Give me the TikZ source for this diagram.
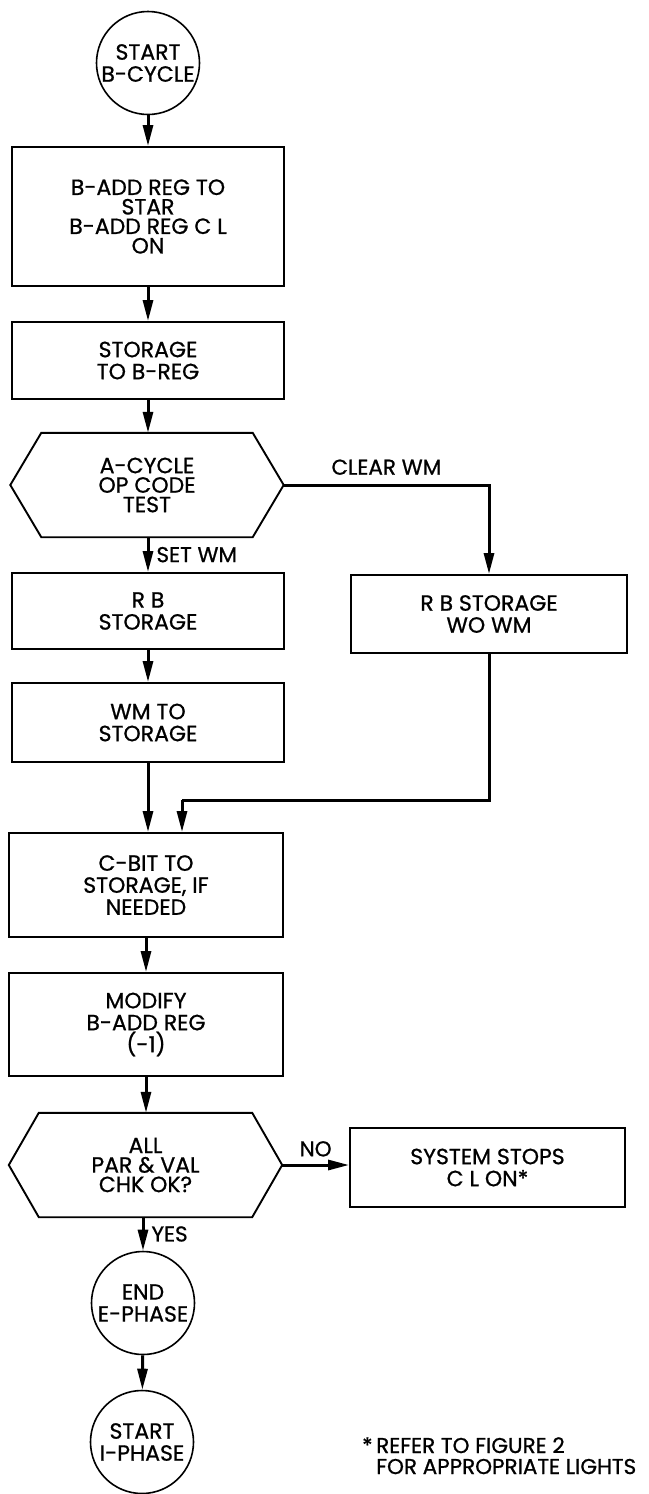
\documentclass[tikz,border=0pt]{standalone}
\usepackage{fontspec}
\setmainfont{Poppins}[FakeBold=0.8]
\usetikzlibrary{arrows.meta,calc}
\begin{document}
\begin{tikzpicture}[x=1pt,y=-1pt,
  every node/.style={font=\fontsize{22}{22}\selectfont, align=center, inner sep=0pt},
  box/.style={draw, line width=1.9pt, minimum width=272pt},
  term/.style={draw, circle, line width=1.6pt, minimum size=103pt},
  hexnode/.style={minimum width=273pt, minimum height=104pt},
  tight/.style={font=\fontsize{22}{19.5}\selectfont},
  flow/.style={line width=3pt, -{Triangle[length=21pt,width=10pt]}},
  conn/.style={line width=3pt},
  lbl/.style={font=\fontsize{21.5}{21}\selectfont},
  hexline/.style={line width=1.9pt, line join=miter}
]
\useasboundingbox (0,0) rectangle (648,1494);
% nodes
\node[term] (start) at (148,63) {START\\B-CYCLE};
\node[box, minimum height=139pt, tight] (b1) at (148,216.5) {B-ADD REG TO\\STAR\\B-ADD REG C L\\ON};
\node[box, minimum height=77pt] (b2) at (148,360.5) {STORAGE\\TO B-REG};
\node[hexnode, tight] (hexA) at (147,485) {A-CYCLE\\OP CODE\\TEST};
\node[box, minimum height=76pt] (rb) at (148,611) {R B\\STORAGE};
\node[box, minimum height=79pt] (wm) at (148,722.5) {WM TO\\STORAGE};
\node[box, minimum height=78pt, minimum width=276pt] (rbw) at (489,614) {R B STORAGE\\WO WM};
\node[box, minimum height=104pt, minimum width=274pt] (cbit) at (146,885) {C-BIT TO\\STORAGE, IF\\NEEDED};
\node[box, minimum height=103pt, minimum width=274pt] (mod) at (146,1024.5) {MODIFY\\B-ADD REG\\(-1)};
\node[hexnode, tight] (hexB) at (145.5,1165) {ALL\\PAR \& VAL\\CHK OK?};
\node[box, minimum height=79pt, minimum width=275pt] (sys) at (487.5,1167.5) {SYSTEM STOPS\\C L ON*};
\node[term] (endc) at (143,1303) {END\\E-PHASE};
\node[term] (starti) at (142,1442) {START\\I-PHASE};
\node[lbl, anchor=north west, align=left] (note) at (376,1437) {\llap{*\,}REFER TO FIGURE 2\\FOR APPROPRIATE LIGHTS};
% hexagons
\draw[hexline] (hexA.west) -- ([xshift=31pt]hexA.north west) -- ([xshift=-31pt]hexA.north east) -- (hexA.east) -- ([xshift=-31pt]hexA.south east) -- ([xshift=31pt]hexA.south west) -- cycle;
\draw[hexline] (hexB.west) -- ([xshift=30pt]hexB.north west) -- ([xshift=-30pt]hexB.north east) -- (hexB.east) -- ([xshift=-30pt]hexB.south east) -- ([xshift=30pt]hexB.south west) -- cycle;
% coordinates
\coordinate (ca) at (489,485);
\coordinate (cb) at (489,800);
\coordinate (cc) at (182,800);
% connectors
\draw[flow] (start) -- (b1);
\draw[flow] (b1) -- (b2);
\draw[flow] (b2.south) -- (b2.south |- hexA.north);
\draw[flow] (hexA.south -| rb.north) -- (rb.north) node[lbl, midway, right=7pt] (setwm) {SET WM};
\draw[flow] (rb) -- (wm);
\draw[conn, line join=miter] (hexA.east) -- (ca) -- ($(ca)!0.5!(rbw.north)$);
\draw[flow] (ca) -- (rbw.north);
\node[lbl, above=10pt] (clearwm) at ($(hexA.east)!0.5!(ca)$) {CLEAR WM};
\draw[conn, line join=miter] (rbw.south) -- (cb) -- (cc);
\draw[flow] (cc) -- (cc |- cbit.north);
\draw[flow] (wm.south) -- (wm.south |- cbit.north);
\draw[flow] (cbit.south -| mod.north) -- (mod.north);
\draw[flow] (mod.south) -- (mod.south |- hexB.north);
\draw[flow] (hexB.east) -- (hexB.east -| sys.west) node[lbl, midway, above=7pt] (no) {NO};
\draw[flow] (hexB.south -| endc.north) -- (endc.north) node[lbl, midway, right=7pt] (yes) {YES};
\draw[flow] (endc) -- (starti);
\end{tikzpicture}
\end{document}
